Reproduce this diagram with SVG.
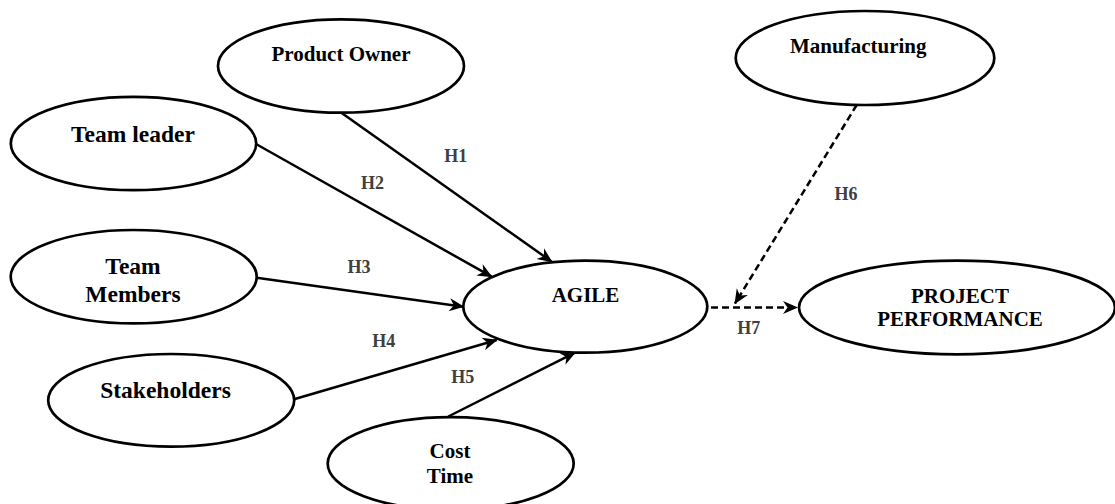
<svg xmlns="http://www.w3.org/2000/svg" width="1115" height="504" viewBox="0 0 1115 504">
<style>
.node ellipse{fill:#fff;stroke:#000;stroke-width:2.7}
.node text{font-family:"Liberation Serif","Times New Roman",serif;font-weight:bold;fill:#000;text-anchor:middle}
.lbl{font-family:"Liberation Serif","Times New Roman",serif;font-weight:bold;font-size:18px;fill:#404040;text-anchor:middle}
.edge{stroke:#000;stroke-width:2.5;fill:none}
.dash{stroke-dasharray:7,4}
</style>
<defs>
<marker id="arr" markerUnits="userSpaceOnUse" markerWidth="16" markerHeight="14" refX="14" refY="6.5" orient="auto" overflow="visible">
<path d="M0,0 L15,6.5 L0,13 L4.5,6.5 z" fill="#000" stroke="none"/>
</marker>
</defs>
<rect width="1115" height="504" fill="#fff"/>
<g id="connectors">
<line class="edge" x1="341.7" y1="113" x2="551.7" y2="261.7" marker-end="url(#arr)"/>
<line class="edge" x1="256" y1="144" x2="491.7" y2="276.7" marker-end="url(#arr)"/>
<line class="edge" x1="256.7" y1="277.7" x2="463.3" y2="306.7" marker-end="url(#arr)"/>
<line class="edge" x1="294" y1="399.3" x2="496.7" y2="340" marker-end="url(#arr)"/>
<line class="edge" x1="448.3" y1="416.5" x2="575" y2="352.7" marker-end="url(#arr)"/>
<line class="edge dash" x1="856.7" y1="105" x2="735" y2="303.5" marker-end="url(#arr)"/>
<line class="edge dash" x1="711" y1="307.5" x2="797" y2="307.5" marker-end="url(#arr)"/>
<text class="lbl" x="455.8" y="162.3">H1</text>
<text class="lbl" x="372.5" y="189.3">H2</text>
<text class="lbl" x="359" y="273">H3</text>
<text class="lbl" x="383.8" y="346.7">H4</text>
<text class="lbl" x="462.8" y="382.7">H5</text>
<text class="lbl" x="846" y="200">H6</text>
<text class="lbl" x="748.7" y="334.3">H7</text>
</g>
<g id="product-owner" class="node">
<ellipse cx="341" cy="66" rx="123" ry="46.7"/>
<text x="341" y="61" font-size="21">Product Owner</text>
</g>
<g id="team-leader" class="node">
<ellipse cx="133.5" cy="143.5" rx="122.7" ry="46.7"/>
<text x="133" y="141.7" font-size="23.5">Team leader</text>
</g>
<g id="team-members" class="node">
<ellipse cx="133.7" cy="276.7" rx="123" ry="46.7"/>
<text x="133" y="274.3" font-size="23.5">Team</text>
<text x="133" y="301.7" font-size="23.5">Members</text>
</g>
<g id="stakeholders" class="node">
<ellipse cx="171.2" cy="400.3" rx="123" ry="46.3"/>
<text x="165.5" y="398.3" font-size="23.5">Stakeholders</text>
</g>
<g id="cost-time" class="node">
<ellipse cx="450.7" cy="463.5" rx="123" ry="46.3"/>
<text x="450" y="458.3" font-size="21">Cost</text>
<text x="450" y="482.7" font-size="21">Time</text>
</g>
<g id="agile" class="node">
<ellipse cx="585.3" cy="306.7" rx="122" ry="46"/>
<text x="585.5" y="301.7" font-size="21">AGILE</text>
</g>
<g id="manufacturing" class="node">
<ellipse cx="865" cy="58" rx="129.3" ry="47"/>
<text x="858.3" y="52.7" font-size="21">Manufacturing</text>
</g>
<g id="project-performance" class="node">
<ellipse cx="957" cy="307.5" rx="158" ry="46.8"/>
<text x="960" y="302.7" font-size="21">PROJECT</text>
<text x="960" y="326" font-size="21">PERFORMANCE</text>
</g>
</svg>
